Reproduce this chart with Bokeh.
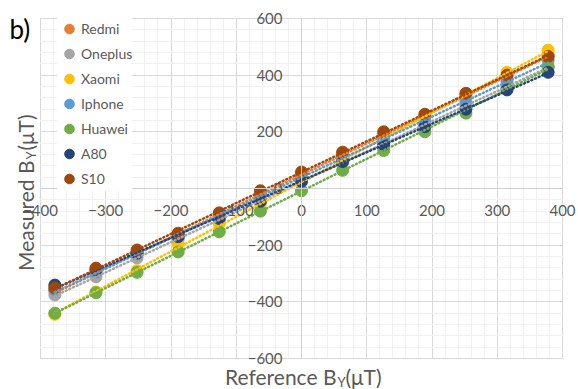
import numpy as np
from bokeh.plotting import figure
from bokeh.models import Label, Legend, LegendItem, SingleIntervalTicker, BoxAnnotation
from bokeh.embed import file_html
from bokeh.resources import INLINE

# ---- data ----
x_ref = [-378, -315, -252, -189, -126, -63, 0, 63, 126, 189, 252, 315, 378]

redmi   = [-362, -298, -226, -162, -96, -30, 46, 118, 190, 255, 330, 395, 470]
oneplus = [-376, -312, -245, -178, -112, -45, 22, 92, 160, 225, 292, 360, 428]
xaomi   = [-444, -365, -290, -196, -124, -55, 22, 98, 172, 250, 330, 410, 488]
iphone  = [-358, -295, -230, -165, -100, -35, 35, 108, 176, 240, 306, 378, 452]
huawei  = [-440, -368, -296, -224, -153, -80, -8, 64, 134, 200, 266, 355, 430]
a80     = [-341, -287, -228, -170, -106, -45, 26, 95, 155, 218, 280, 348, 410]
s10     = [-351, -281, -217, -158, -86, -8, 58, 128, 200, 262, 336, 400, 466]

names = ["Redmi", "Oneplus", "Xaomi", "Iphone", "Huawei", "A80", "S10"]
series = [redmi, oneplus, xaomi, iphone, huawei, a80, s10]
colors = ["#ED7D31", "#A5A5A5", "#FFC000", "#5B9BD5", "#70AD47", "#264478", "#9E480E"]

X_MIN, X_MAX = -400, 400
Y_MIN, Y_MAX = -600, 600

FONT = "Lato"
TXT = "#595959"

# figure = whole window; plot area spans px 40..562 (x) and 18..358 (y)
W, H = 578, 389
L, R, T, B = 40, 562, 18, 358
sx = (X_MAX - X_MIN) / (R - L)
sy = (Y_MAX - Y_MIN) / (B - T)
x_range = (X_MIN - L * sx, X_MAX + (W - R) * sx)
y_range = (Y_MIN - (H - B) * sy, Y_MAX + T * sy)

p = figure(width=W, height=H, x_range=x_range, y_range=y_range,
           output_backend="svg", toolbar_location=None,
           min_border=0, min_border_left=0, min_border_right=0,
           min_border_top=0, min_border_bottom=0)
p.outline_line_color = None
p.background_fill_color = "white"
p.border_fill_color = "white"

for ax, iv, bnd in ((p.xaxis, 100, (X_MIN, X_MAX)), (p.yaxis, 200, (Y_MIN, Y_MAX))):
    ax.ticker = SingleIntervalTicker(interval=iv, num_minor_ticks=5)
    ax.fixed_location = 0
    ax.bounds = bnd
    ax.axis_line_color = "#d0d0d0"
    ax.axis_line_width = 1
    ax.major_tick_line_color = None
    ax.minor_tick_line_color = None
    ax.major_label_text_font = FONT
    ax.major_label_text_font_size = "15px"
    ax.major_label_text_color = TXT
p.xaxis.major_label_standoff = 10
p.yaxis.major_label_standoff = 13

for g in (p.xgrid, p.ygrid):
    g.grid_line_color = "#d9d9d9"
    g.grid_line_width = 1
    g.minor_grid_line_color = "#f1f1f1"
    g.minor_grid_line_width = 1

# white masks so that the grid stays inside the plot area
for kw in (dict(bottom=Y_MAX + 1.5), dict(top=Y_MIN - 1.5),
           dict(right=X_MIN - 1), dict(left=X_MAX + 1)):
    p.add_layout(BoxAnnotation(level="underlay", fill_color="white", fill_alpha=1,
                               line_color=None, **kw))

renderers = []
for name, ys, c in zip(names, series, colors):
    r = p.scatter(x_ref, ys, size=12, fill_color=c, line_color=c)
    renderers.append(r)

# linear trendlines (fit of each series)
for ys, c in zip(series, colors):
    k, b = np.polyfit(np.array(x_ref, float), np.array(ys, float), 1)
    xe = [x_ref[0], x_ref[-1]]
    p.line(xe, [k * xe[0] + b, k * xe[1] + b], line_color=c, line_width=2.5,
           line_dash="1 3", line_cap="round")

legend = Legend(items=[LegendItem(label=n, renderers=[r]) for n, r in zip(names, renderers)],
                location=(57, 198), glyph_width=24, glyph_height=25, label_height=25,
                label_standoff=0, spacing=0, padding=0, margin=0,
                label_text_font=FONT, label_text_font_size="14px", label_text_color=TXT,
                border_line_color=None, background_fill_color="white", background_fill_alpha=1)
p.add_layout(legend)

def px2x(px):
    return X_MIN + (px - L) * sx

def py2y(py):
    return Y_MAX - (py - T) * sy

def lab(**kw):
    p.add_layout(Label(text_font=FONT, text_color=TXT, **kw))

# axis titles with subscript Y
lab(x=px2x(336), y=py2y(376), text="Reference B", text_align="right",
    text_baseline="middle", text_font_size="21px")
lab(x=px2x(337), y=py2y(381), text="Y", text_align="left",
    text_baseline="middle", text_font_size="13px")
lab(x=px2x(345), y=py2y(376), text="(\u03bcT)", text_align="left",
    text_baseline="middle", text_font_size="21px")

lab(x=px2x(25), y=py2y(160), text="Measured B", text_align="right",
    text_baseline="middle", text_font_size="21px", angle=np.pi / 2)
lab(x=px2x(30), y=py2y(159), text="Y", text_align="left",
    text_baseline="middle", text_font_size="13px", angle=np.pi / 2)
lab(x=px2x(25), y=py2y(150), text="(\u03bcT)", text_align="left",
    text_baseline="middle", text_font_size="21px", angle=np.pi / 2)

p.add_layout(Label(x=px2x(9), y=py2y(28), text="b)", text_align="left",
                   text_baseline="middle", text_font=FONT, text_font_size="26px",
                   text_color="black"))

open("out.html", "w").write(file_html(p, INLINE))
